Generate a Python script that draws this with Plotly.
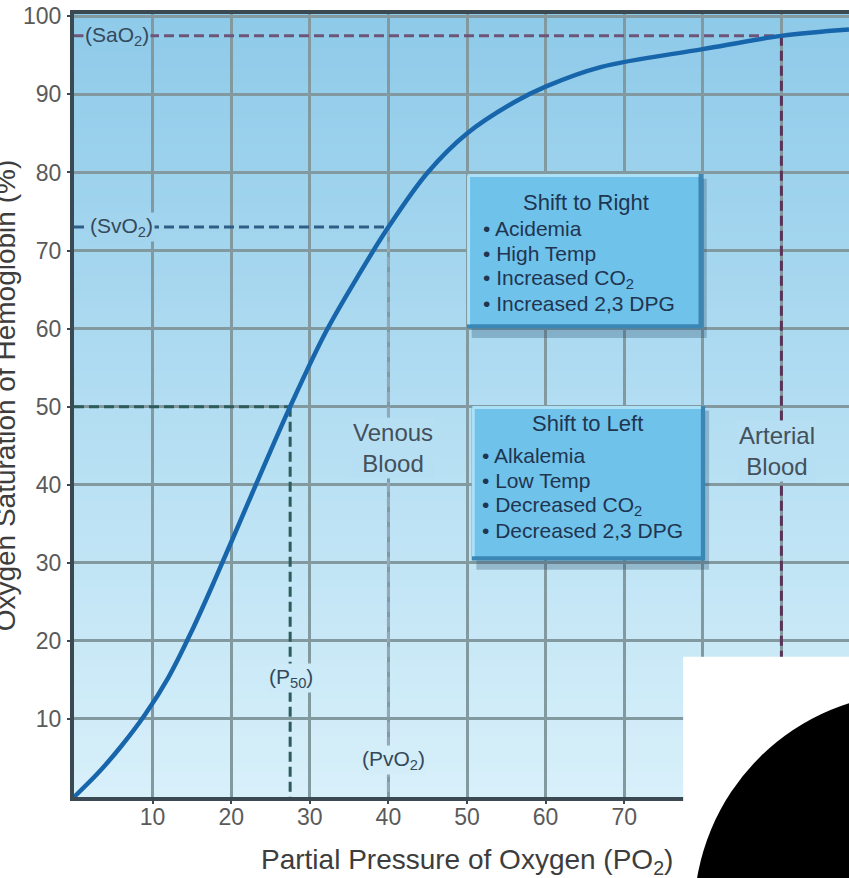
import plotly.graph_objects as go

# Oxygen-hemoglobin dissociation curve (PO2 in mmHg, saturation in %)
po2 = [0, 3, 6, 9, 12, 15, 18, 21, 24, 27.5, 32, 36, 40, 45, 50, 56, 60, 67, 80, 90, 98.6]
sat = [0, 3, 6.5, 10.5, 15.3, 21.3, 28, 35, 42, 50, 59.5, 66.5, 73, 80, 85, 89, 91, 93.5, 95.8, 97.5, 98.3]

x_ticks = [10, 20, 30, 40, 50, 60, 70, 80, 90]
y_ticks = [10, 20, 30, 40, 50, 60, 70, 80, 90, 100]

# Reference points on the curve
pao2, sao2 = 90, 97.5      # arterial
pvo2, svo2 = 40, 73        # mixed venous
p50, half_sat = 27.5, 50   # half saturation

shift_right = ["Acidemia", "High Temp", "Increased CO<sub>2</sub>", "Increased 2,3 DPG"]
shift_left = ["Alkalemia", "Low Temp", "Decreased CO<sub>2</sub>", "Decreased 2,3 DPG"]

X_MAX, Y_MAX = 98.6, 100.3
FONT = "Liberation Sans, Arial, sans-serif"
TEXT = "#34495a"
BOX_TEXT = "#1f3550"

# vertical background gradient (paper y: 0 bottom, 1 top)
stops = [(0.0, (216, 240, 250)), (0.5, (178, 221, 242)), (1.0, (142, 202, 233))]


def grad(p):
    p = min(max(p, 0.0), 1.0)
    for (p0, c0), (p1, c1) in zip(stops[:-1], stops[1:]):
        if p0 <= p <= p1:
            t = (p - p0) / (p1 - p0)
            return "rgb(%d,%d,%d)" % tuple(round(a + (b - a) * t) for a, b in zip(c0, c1))
    return "rgb(%d,%d,%d)" % stops[-1][1]


shapes = []
N = 90
for i in range(N):
    y0, y1 = i / N, (i + 1) / N
    shapes.append(dict(type="rect", xref="paper", yref="paper", x0=0, x1=1, y0=y0, y1=y1 + 0.002,
                       fillcolor=grad((y0 + y1) / 2), line=dict(width=0), layer="below"))

fig = go.Figure()

dash = "10px,5px"
ref_lines = [
    ([0, pao2], [sao2, sao2], "#6d5479"),
    ([pao2, pao2], [sao2, 0], "#583558"),
    ([0, pvo2], [svo2, svo2], "#2f5d86"),
    ([pvo2, pvo2], [svo2, 0], "#93a8b8"),
    ([0, p50], [half_sat, half_sat], "#2e5c5c"),
    ([p50, p50], [half_sat, 0], "#2e5c5c"),
]
for xs, ys, col in ref_lines:
    fig.add_trace(go.Scatter(x=xs, y=ys, mode="lines", hoverinfo="skip", showlegend=False,
                             line=dict(color=col, width=3, dash=dash)))

fig.add_trace(go.Scatter(x=po2, y=sat, mode="lines", showlegend=False,
                         line=dict(color="#1765aa", width=4.5, shape="spline", smoothing=1.0)))


def box(x0, x1, y0, y1):
    dx, dy = 0.55, 0.55
    return [
        # soft drop shadow
        dict(type="rect", x0=x0 + 0.6, x1=x1 + 0.5, y0=y0 - 1.2, y1=y1 - 0.6,
             fillcolor="rgba(40,80,110,0.30)", line=dict(width=0), layer="above"),
        dict(type="rect", x0=x0, x1=x1, y0=y0, y1=y1, fillcolor="#3a86b5",
             line=dict(width=0), layer="above"),
        dict(type="rect", x0=x0, x1=x1 - dx, y0=y0 + dy, y1=y1, fillcolor="#6fc2ea",
             line=dict(width=0), layer="above"),
        dict(type="line", x0=x0 + 0.15, x1=x1 - dx, y0=y1 - 0.2, y1=y1 - 0.2,
             line=dict(color="#ace0f7", width=3), layer="above"),
        dict(type="line", x0=x0 + 0.2, x1=x0 + 0.2, y0=y0 + dy, y1=y1 - 0.2,
             line=dict(color="#ace0f7", width=3), layer="above"),
    ]


shapes += box(50.0, 80.0, 60.0, 79.8)
shapes += box(50.6, 80.3, 30.3, 50.1)

# corner overlay: white panel with a black disc
shapes.append(dict(type="rect", xref="paper", yref="paper", x0=0.786, x1=1.05, y0=0.179, y1=-0.2,
                   fillcolor="white", line=dict(width=0), layer="above"))
shapes.append(dict(type="circle", xref="paper", yref="paper", x0=0.80, x1=1.373, y0=0.133, y1=-0.434,
                   fillcolor="black", line=dict(width=0), layer="above"))

annotations = []


def label(x, y, text, size=21, bg=True, color=TEXT):
    a = dict(x=x, y=y, xref="x", yref="y", text=text, showarrow=False,
             xanchor="center", yanchor="middle",
             font=dict(family=FONT, size=size, color=color), borderpad=1)
    if bg:
        a["bgcolor"] = grad(y / Y_MAX)
    annotations.append(a)


label(5.5, sao2, "(SaO<sub>2</sub>)")
label(6.0, svo2, "(SvO<sub>2</sub>)")
label(p50 + 0.1, 15.2, "(P<sub>50</sub>)")
label(pvo2 + 0.6, 4.7, "(PvO<sub>2</sub>)")
label(40.6, 44.7, "Venous<br>Blood", size=24, color="#44505a")
label(89.4, 44.3, "Arterial<br>Blood", size=24, color="#44505a")


def box_text(xc, xl, y_title, ys, title, items):
    annotations.append(dict(x=xc, y=y_title, xref="x", yref="y", text=title, showarrow=False,
                            xanchor="center", yanchor="middle",
                            font=dict(family=FONT, size=22, color=BOX_TEXT)))
    for yy, t in zip(ys, items):
        annotations.append(dict(x=xl, y=yy, xref="x", yref="y", xanchor="left", yanchor="middle",
                                text="• " + t, showarrow=False,
                                font=dict(family=FONT, size=21, color=BOX_TEXT)))


box_text(65.1, 51.8, 76.2, [72.8, 69.6, 66.4, 63.2], "Shift to Right", shift_right)
box_text(65.3, 51.6, 47.8, [43.7, 40.5, 37.3, 34.1], "Shift to Left", shift_left)

# axis titles
annotations.append(dict(x=0.507, y=-0.083, xref="paper", yref="paper", showarrow=False,
                        xanchor="center", yanchor="middle",
                        text="Partial Pressure of Oxygen (PO<sub>2</sub>)",
                        font=dict(family=FONT, size=28, color="#3d3d3d")))
annotations.append(dict(x=-0.089, y=0.513, xref="paper", yref="paper", showarrow=False, textangle=-90,
                        xanchor="center", yanchor="middle",
                        text="Oxygen Saturation of Hemoglobin (%)",
                        font=dict(family=FONT, size=28, color="#3d3d3d")))

axis_col = "#3b4a52"
grid_col = "#82999f"
fig.update_layout(
    width=849, height=878,
    margin=dict(l=74, r=0, t=14, b=81),
    paper_bgcolor="white", plot_bgcolor="rgba(0,0,0,0)",
    shapes=shapes, annotations=annotations,
    xaxis=dict(range=[0, X_MAX], tickvals=x_ticks, showgrid=True, gridcolor=grid_col, gridwidth=3,
               zeroline=False, showline=True, linecolor=axis_col, linewidth=4, mirror=True,
               ticks="outside", ticklen=3, tickwidth=2, tickcolor=axis_col,
               tickfont=dict(family=FONT, size=23, color="#5a5a5a"), ticklabelstandoff=-7),
    yaxis=dict(range=[0, Y_MAX], tickvals=y_ticks, showgrid=True, gridcolor=grid_col, gridwidth=3,
               zeroline=False, showline=True, linecolor=axis_col, linewidth=4,
               ticks="outside", ticklen=3, tickwidth=2, tickcolor=axis_col,
               tickfont=dict(family=FONT, size=23, color="#5a5a5a"), ticklabelstandoff=1),
)

fig.write_html("out.html")
